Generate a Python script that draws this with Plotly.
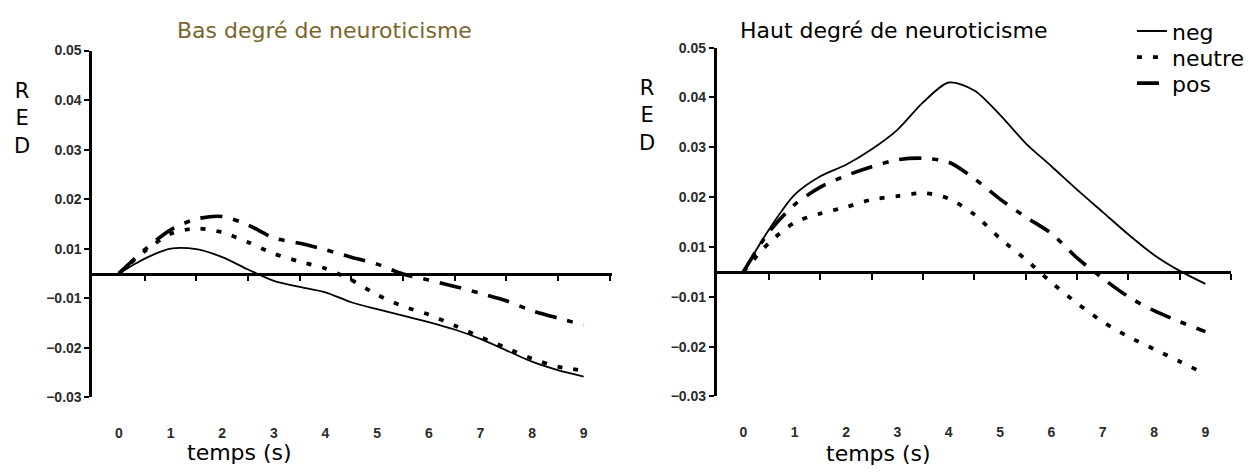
import plotly.graph_objects as go

# time (s)
temps = [0, 0.5, 1, 1.5, 2, 2.5, 3, 3.5, 4, 4.5, 5, 5.5, 6, 6.5, 7, 7.5, 8, 8.5, 9]

# Low neuroticism panel (values in the plotted axis units; zero = horizontal line)
bas_neg = [0, 0.0030, 0.0050, 0.0049, 0.0033, 0.0008, -0.0015, -0.0027, -0.0038, -0.0058,
           -0.0072, -0.0085, -0.0098, -0.0113, -0.0132, -0.0155, -0.0178, -0.0195, -0.0208]
bas_neutre = [0, 0.0045, 0.0080, 0.0091, 0.0083, 0.0063, 0.0040, 0.0024, 0.0010, -0.0013,
              -0.0043, -0.0066, -0.0083, -0.0105, -0.0128, -0.0150, -0.0172, -0.0188, -0.0196]
bas_pos = [0, 0.0048, 0.0088, 0.0110, 0.0115, 0.0098, 0.0072, 0.0061, 0.0048, 0.0033,
           0.0019, -0.0001, -0.0013, -0.0026, -0.0040, -0.0055, -0.0075, -0.0090, -0.0104]

# High neuroticism panel
haut_neg = [0, 0.0085, 0.0155, 0.0192, 0.0215, 0.0246, 0.0285, 0.0340, 0.0380, 0.0364,
            0.0315, 0.0258, 0.0212, 0.0165, 0.0120, 0.0075, 0.0034, 0.0002, -0.0024]
haut_neutre = [0, 0.0058, 0.0099, 0.0117, 0.0130, 0.0145, 0.0152, 0.0158, 0.0147, 0.0115,
               0.0067, 0.0025, -0.0021, -0.0063, -0.0100, -0.0130, -0.0155, -0.0180, -0.0205]
haut_pos = [0, 0.0080, 0.0135, 0.0170, 0.0193, 0.0211, 0.0225, 0.0228, 0.0220, 0.0187,
            0.0146, 0.0110, 0.0077, 0.0028, -0.0013, -0.0050, -0.0078, -0.0100, -0.0120]

x_ticks = [0, 1, 2, 3, 4, 5, 6, 7, 8, 9]
x_ticktext = ["0", "1", "2", "3", "4", "5", "6", "7", "8", "9"]
zero_ticks = [0.5, 1.5, 2.5, 3.5, 4.5, 5.5, 6.5, 7.5, 8.5, 9.5]
y_ticks = [-0.025, -0.015, -0.005, 0.005, 0.015, 0.025, 0.035, 0.045]
y_ticktext = ["\u22120.03", "\u22120.02", "\u22120.01", "0.01", "0.02", "0.03", "0.04", "0.05"]

series_names = ["neg", "neutre", "pos"]
legend_ids = {"neg": "legend", "neutre": "legend2", "pos": "legend3"}
legend_rows = {"neg": 24, "neutre": 51, "pos": 78}
styles = {
    "neg": dict(color="black", width=1.8, dash="solid"),
    "neutre": dict(color="black", width=3.8, dash="5px,11px"),
    "pos": dict(color="black", width=3.6, dash="22px,11px,6px,11px"),
}

W, H = 1250, 474
FONT = "DejaVu Sans"
TICKFONT = dict(family="Liberation Sans", size=14, color="#2b2b2b", weight="bold")

fig = go.Figure()

panels = [
    ("x", "y", [bas_neg, bas_neutre, bas_pos], False),
    ("x2", "y2", [haut_neg, haut_neutre, haut_pos], True),
]
for xa, ya, data, show in panels:
    for name, vals in zip(series_names, data):
        fig.add_trace(go.Scatter(
            x=temps, y=vals, mode="lines", name=name, xaxis=xa, yaxis=ya,
            line=dict(shape="spline", smoothing=0.8, **styles[name]),
            showlegend=show, legend=legend_ids[name], hoverinfo="skip"))

# dummy empty traces so the zero-line axes are drawn
fig.add_trace(go.Scatter(x=[], y=[], xaxis="x3", yaxis="y", showlegend=False))
fig.add_trace(go.Scatter(x=[], y=[], xaxis="x4", yaxis="y2", showlegend=False))

# layout geometry (pixels)
left = dict(x0=93, x1=617, ytop=44, ybot=403, xr=[-0.518, 9.54])
right = dict(x0=723, x1=1242, ytop=41, ybot=402, xr=[-0.52, 9.5])
yr = [-0.025, 0.045]


def ydom(p):
    return [1 - p["ybot"] / H, 1 - p["ytop"] / H]


def zero_pos(p):
    d = ydom(p)
    return d[0] + (0 - yr[0]) / (yr[1] - yr[0]) * (d[1] - d[0])


def xlabels_axis(p, anchor):
    return dict(domain=[p["x0"] / W, p["x1"] / W], range=p["xr"], anchor=anchor,
                showline=False, showgrid=False, zeroline=False,
                tickmode="array", tickvals=x_ticks, ticktext=x_ticktext,
                ticks="outside", ticklen=23, tickcolor="rgba(0,0,0,0)",
                tickfont=TICKFONT)


def y_axis(p, anchor):
    return dict(domain=ydom(p), range=yr, anchor=anchor,
                showline=True, linewidth=2.5, linecolor="black",
                showgrid=False, zeroline=False,
                tickmode="array", tickvals=y_ticks, ticktext=y_ticktext,
                ticks="outside", ticklen=5, tickwidth=2, tickcolor="black",
                tickfont=TICKFONT)


def zero_axis(p, over):
    return dict(overlaying=over, anchor="free", position=zero_pos(p),
                domain=[p["x0"] / W, p["x1"] / W], range=p["xr"],
                showline=True, linewidth=2.5, linecolor="black",
                showgrid=False, zeroline=False,
                tickmode="array", tickvals=zero_ticks, showticklabels=False,
                ticks="outside", ticklen=6, tickwidth=2, tickcolor="black")


def legend_box(row_y):
    return dict(x=1142 / W, y=1 - row_y / H, xanchor="left", yanchor="middle",
                font=dict(family=FONT, size=22, color="black"),
                bgcolor="rgba(0,0,0,0)", borderwidth=0)


annotations = [
    dict(text="Bas degré de neuroticisme", x=327 / W, y=1 - 23 / H,
         font=dict(family=FONT, size=22, color="#7b662c")),
    dict(text="Haut degré de neuroticisme", x=901 / W, y=1 - 23 / H,
         font=dict(family=FONT, size=22, color="black")),
    dict(text="R<br>E<br>D", x=22 / W, y=1 - 114 / H,
         font=dict(family=FONT, size=21, color="black")),
    dict(text="R<br>E<br>D", x=653 / W, y=1 - 111 / H,
         font=dict(family=FONT, size=21, color="black")),
    dict(text="temps (s)", x=242 / W, y=1 - 460 / H,
         font=dict(family=FONT, size=22, color="black")),
    dict(text="temps (s)", x=886 / W, y=1 - 461 / H,
         font=dict(family=FONT, size=22, color="black")),
]
for a in annotations:
    a.update(xref="paper", yref="paper", showarrow=False, xanchor="center", yanchor="middle")

fig.update_layout(
    width=W, height=H,
    margin=dict(l=0, r=0, t=0, b=0),
    paper_bgcolor="white", plot_bgcolor="white",
    xaxis=xlabels_axis(left, "y"),
    yaxis=y_axis(left, "x"),
    xaxis2=xlabels_axis(right, "y2"),
    yaxis2=y_axis(right, "x2"),
    xaxis3=zero_axis(left, "x"),
    xaxis4=zero_axis(right, "x2"),
    annotations=annotations,
    legend=legend_box(legend_rows["neg"]),
    legend2=legend_box(legend_rows["neutre"]),
    legend3=legend_box(legend_rows["pos"]),
    showlegend=True,
)

fig.write_html("out.html",
               config={"displayModeBar": False},
               post_script="document.body.style.margin='0';document.body.style.overflow='hidden';")
